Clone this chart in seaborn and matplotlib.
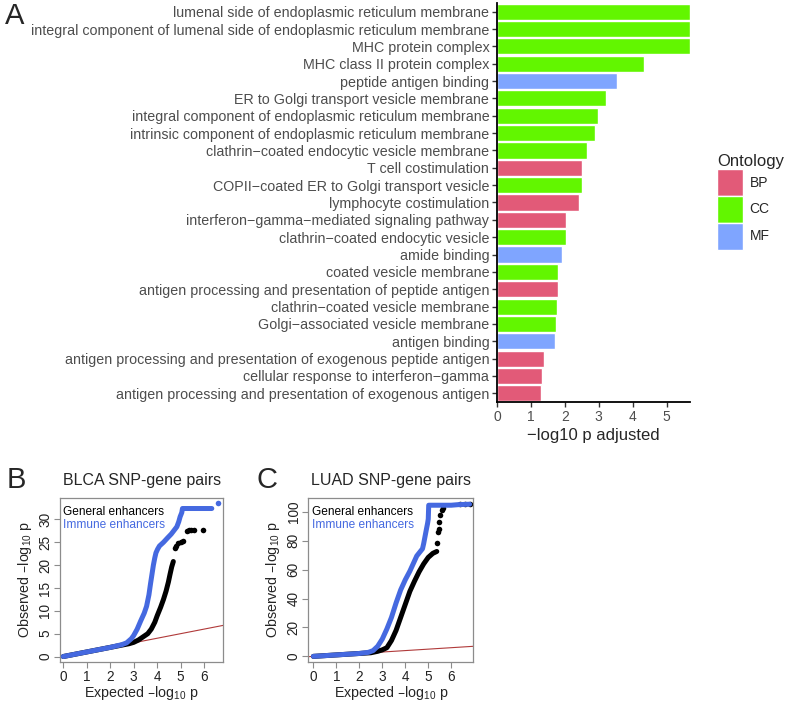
import numpy as np
import pandas as pd
import matplotlib
matplotlib.use("Agg")
import matplotlib.pyplot as plt
import seaborn as sns

# -------------------------------
# Panel A data: GO enrichment
# -------------------------------
terms = [
    "lumenal side of endoplasmic reticulum membrane",
    "integral component of lumenal side of endoplasmic reticulum membrane",
    "MHC protein complex",
    "MHC class II protein complex",
    "peptide antigen binding",
    "ER to Golgi transport vesicle membrane",
    "integral component of endoplasmic reticulum membrane",
    "intrinsic component of endoplasmic reticulum membrane",
    "clathrin\u2212coated endocytic vesicle membrane",
    "T cell costimulation",
    "COPII\u2212coated ER to Golgi transport vesicle",
    "lymphocyte costimulation",
    "interferon\u2212gamma\u2212mediated signaling pathway",
    "clathrin\u2212coated endocytic vesicle",
    "amide binding",
    "coated vesicle membrane",
    "antigen processing and presentation of peptide antigen",
    "clathrin\u2212coated vesicle membrane",
    "Golgi\u2212associated vesicle membrane",
    "antigen binding",
    "antigen processing and presentation of exogenous peptide antigen",
    "cellular response to interferon\u2212gamma",
    "antigen processing and presentation of exogenous antigen",
]
neglog_padj = [5.69, 5.69, 5.69, 4.32, 3.55, 3.21, 2.97, 2.90, 2.66, 2.52, 2.52, 2.42,
               2.02, 2.02, 1.93, 1.80, 1.80, 1.76, 1.75, 1.70, 1.39, 1.33, 1.30]
ontology = ["CC", "CC", "CC", "CC", "MF", "CC", "CC", "CC", "CC", "BP", "CC", "BP",
            "BP", "CC", "MF", "CC", "BP", "CC", "CC", "MF", "BP", "BP", "BP"]
onto_order = ["BP", "CC", "MF"]
onto_colors = {"BP": "#E25A78", "CC": "#62F600", "MF": "#7FA5FF"}

# -------------------------------
# Panels B/C data: QQ curves
# -------------------------------
blca_gen_x = [0, 1, 2, 2.8, 3.0, 3.2, 3.4, 3.6, 3.75, 3.9, 4.0, 4.15, 4.27, 4.38, 4.48, 4.55, 4.62, 4.69]
blca_gen_y = [0, 1, 2, 2.8, 3.1, 3.6, 4.3, 5.0, 6.0, 7.5, 8.9, 10.8, 12.5, 14.3, 16.3, 18.0, 19.6, 20.8]
blca_gen_tail_x = [4.76, 4.82, 4.9, 5.0, 5.12, 5.26, 5.35, 5.45, 5.55, 5.97]
blca_gen_tail_y = [23.7, 24.3, 24.8, 25.0, 25.2, 27.5, 27.7, 27.8, 27.8, 27.8]
blca_imm_x = [0, 1, 2, 2.5, 2.7, 2.9, 3.0, 3.15, 3.3, 3.45, 3.55, 3.65, 3.72, 3.78, 3.84, 3.9,
              3.95, 4.02, 4.1, 4.27, 4.45, 4.6, 4.72, 4.84, 4.92, 4.98, 5.05, 5.08, 5.5, 6.0, 6.33]
blca_imm_y = [0, 1, 2, 2.6, 3.0, 3.9, 4.6, 6.0, 7.8, 9.5, 11.0, 13.5, 16, 18, 20, 21.6,
              22.7, 23.5, 24.2, 25.0, 26.0, 26.8, 27.6, 28.4, 29.5, 30.6, 31.5, 32.4, 32.4, 32.4, 32.4]
blca_imm_tail_x = [6.58]
blca_imm_tail_y = [33.6]

luad_gen_x = [0, 1, 2, 2.5, 2.8, 3.0, 3.2, 3.4, 3.6, 3.8, 4.0, 4.2, 4.4, 4.6, 4.8, 5.0, 5.2, 5.37]
luad_gen_y = [0, 1, 2, 2.5, 3.5, 4.5, 6, 11, 18, 27, 36, 45, 52, 58.5, 64, 68.5, 71.3, 72.6]
luad_gen_tail_x = [5.39, 5.43, 5.46, 5.48, 5.51, 5.58, 5.62, 6.4, 6.6, 6.8]
luad_gen_tail_y = [78.8, 86.3, 88, 93, 97.7, 101, 103, 105.5, 105.5, 105.5]
luad_imm_x = [0, 1, 2, 2.4, 2.6, 2.8, 3.0, 3.2, 3.4, 3.6, 3.8, 4.0, 4.2, 4.4, 4.5, 4.65,
              4.75, 4.8, 4.86, 4.92, 4.97, 5.0, 5.02, 5.5, 6.0, 6.3, 6.8]
luad_imm_y = [0, 1, 2, 2.8, 4.0, 7, 12, 19, 27, 37, 46, 53, 59, 66, 69.5, 72.5,
              74.5, 78, 83, 88, 92, 95, 104.6, 104.6, 104.6, 105, 105.3]

# -------------------------------
# Style
# -------------------------------
sns.set_style("white")
plt.rcParams["font.family"] = ["Liberation Sans", "DejaVu Sans"]
plt.rcParams["mathtext.default"] = "regular"

fig = plt.figure(figsize=(7.92, 7.04), dpi=100)
W, H = 792, 704


def px_axes(x0, y0, x1, y1):
    return fig.add_axes([x0 / W, 1 - y1 / H, (x1 - x0) / W, (y1 - y0) / H])


# -------------------------------
# Panel A
# -------------------------------
axA = px_axes(497, 3, 690, 402)
df = pd.DataFrame({"term": terms, "value": neglog_padj, "Ontology": ontology})
sns.barplot(data=df, x="value", y="term", hue="Ontology", hue_order=onto_order,
            palette=onto_colors, dodge=False, width=0.93, saturation=1, ax=axA)
axA.set_xlim(0, 5.69)
axA.set_ylim(22.5, -0.5)
axA.set_xticks([0, 1, 2, 3, 4, 5])
axA.set_ylabel("")
axA.set_xlabel("\u2212log10 p adjusted", fontsize=12, labelpad=3)
axA.tick_params(axis="y", labelsize=10.3)
axA.tick_params(axis="x", labelsize=10)
axA.tick_params(axis="both", colors="#333333", labelcolor="#4D4D4D",
                length=3.5, width=1, direction="out", left=True, bottom=True, pad=2)
for s in ["top", "right"]:
    axA.spines[s].set_visible(False)
for s in ["left", "bottom"]:
    axA.spines[s].set_color("black")
    axA.spines[s].set_linewidth(1.3)

handles, labels = axA.get_legend_handles_labels()
axA.get_legend().remove()
fig.legend(handles, labels, title="Ontology", loc="upper left",
           bbox_to_anchor=(710 / W, 1 - 147 / H), frameon=False,
           fontsize=10, title_fontsize=12, handlelength=1.85, handleheight=2.6,
           labelspacing=0.0, handletextpad=0.5, borderpad=0, alignment="left")

# -------------------------------
# Panels B and C: QQ plots
# -------------------------------
blue = "#4569E0"


def qq_panel(ax, gx, gy, gtx, gty, ix, iy, itx, ity, xlim, ylim, yticks, title):
    ax.axline((0, 0), slope=1, color="#B03A3A", lw=0.8, zorder=1)
    sns.lineplot(x=gx, y=gy, color="black", lw=3.6, sort=False, estimator=None, ax=ax, zorder=2)
    sns.scatterplot(x=gtx, y=gty, color="black", s=16, linewidth=0, ax=ax, zorder=2)
    sns.lineplot(x=ix, y=iy, color=blue, lw=3.6, sort=False, estimator=None, ax=ax, zorder=3)
    if itx:
        sns.scatterplot(x=itx, y=ity, color=blue, s=16, linewidth=0, ax=ax, zorder=3)
    ax.set_xlim(*xlim)
    ax.set_ylim(*ylim)
    ax.set_xticks([0, 1, 2, 3, 4, 5, 6])
    ax.set_yticks(yticks)
    for s in ax.spines.values():
        s.set_visible(True)
        s.set_color("#8C8C8C")
        s.set_linewidth(0.9)
    ax.tick_params(axis="both", colors="#8C8C8C", labelcolor="#222222", labelsize=9.8,
                   length=4, width=0.8, direction="out", left=True, bottom=True, pad=1.5)
    for lab in ax.get_yticklabels():
        lab.set_rotation(90)
        lab.set_va("center")
    ax.set_xlabel("Expected \u2013log$_{10}$ p", fontsize=10.3, labelpad=0)
    ax.set_ylabel("Observed \u2013log$_{10}$ p", fontsize=10.3, labelpad=3)
    ax.set_title(title, fontsize=11.5, pad=9)
    ax.text(0.02, 0.915, "General enhancers", transform=ax.transAxes, fontsize=8.6,
            color="black", va="center", ha="left")
    ax.text(0.02, 0.835, "Immune enhancers", transform=ax.transAxes, fontsize=8.6,
            color=blue, va="center", ha="left")


axB = px_axes(60, 498, 223.3, 662)
qq_panel(axB, blca_gen_x, blca_gen_y, blca_gen_tail_x, blca_gen_tail_y,
         blca_imm_x, blca_imm_y, blca_imm_tail_x, blca_imm_tail_y,
         (-0.14, 6.82), (-1.2, 34.7), [0, 5, 10, 15, 20, 25, 30], "BLCA SNP-gene pairs")

axC = px_axes(308.3, 498, 473.3, 662)
qq_panel(axC, luad_gen_x, luad_gen_y, luad_gen_tail_x, luad_gen_tail_y,
         luad_imm_x, luad_imm_y, [], [],
         (-0.22, 6.96), (-3.9, 109.6), [0, 20, 40, 60, 80, 100], "LUAD SNP-gene pairs")

# panel letters
fig.text(5 / W, 1 - 2 / H, "A", fontsize=21, va="top", ha="left")
fig.text(7 / W, 1 - 466 / H, "B", fontsize=21, va="top", ha="left")
fig.text(257 / W, 1 - 466 / H, "C", fontsize=21, va="top", ha="left")

fig.savefig("out.png", dpi=100)
